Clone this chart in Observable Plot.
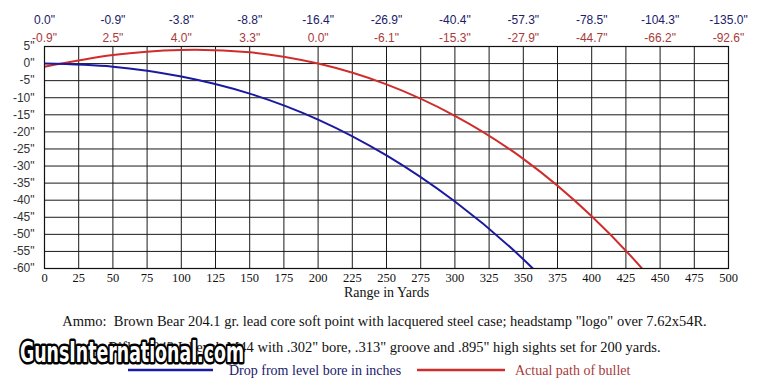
<!DOCTYPE html>
<html>
<head>
<meta charset="utf-8">
<script src="https://cdn.jsdelivr.net/npm/d3@7"></script>
<script src="https://cdn.jsdelivr.net/npm/@observablehq/plot@0.6"></script>
<style>
  html, body { margin: 0; padding: 0; background: #fff; }
  #wrap { position: relative; width: 769px; height: 384px; overflow: hidden; background: #fff; }
  #chart { position: absolute; left: 0; top: 0; }
  .cap { position: absolute; left: 0; width: 769px; text-align: center; font-family: "Liberation Serif", "Times New Roman", serif; font-size: 14.5px; color: #111; white-space: nowrap; }
  #legend { position: absolute; left: 0; top: 361px; width: 769px; height: 20px; }
  #wm { position: absolute; left: 0; top: 330px; }
  .serif text, text.serif { font-family: "Liberation Serif", "Times New Roman", serif; }
</style>
</head>
<body>
<div id="wrap">
  <div id="chart"></div>
  <div class="cap" id="cap1" style="top:313px">Ammo:&nbsp; Brown Bear 204.1 gr. lead core soft point with lacquered steel case; headstamp "logo" over 7.62x54R.</div>
  <div class="cap" id="cap2" style="top:339px">Rifle: 1943 Izhevsk M44 with .302" bore, .313" groove and .895" high sights set for 200 yards.</div>
  <div id="legend"></div>
  <svg id="wm" width="260" height="40"></svg>
</div>
<script>
// Range points (yards) at which the table values are given
const yards = [0, 50, 100, 150, 200, 250, 300, 350, 400, 450, 500];
// Drop from level bore, inches
const dropIn = [0.0, -0.9, -3.8, -8.8, -16.4, -26.9, -40.4, -57.3, -78.5, -104.3, -135.0];
// Actual path of bullet (sights set for 200 yards), inches
const pathIn = [-0.9, 2.5, 4.0, 3.3, 0.0, -6.1, -15.3, -27.9, -44.7, -66.2, -92.6];
// Axis ticks
const xTicks = [0, 25, 50, 75, 100, 125, 150, 175, 200, 225, 250, 275, 300, 325, 350, 375, 400, 425, 450, 475, 500];
const yTicks = [5, 0, -5, -10, -15, -20, -25, -30, -35, -40, -45, -50, -55, -60];
const seriesNames = ["Drop from level bore in inches", "Actual path of bullet"];

const blue = "#1a1aa0";
const red = "#d02c2c";
const blueText = "#20206a";
const redText = "#a83a3a";
const serif = "Liberation Serif, Times New Roman, serif";

const dropData = yards.map((x, i) => ({x, y: dropIn[i]}));
const pathData = yards.map((x, i) => ({x, y: pathIn[i]}));
const fmt = v => v.toFixed(1) + '"';

const chart = Plot.plot({
  width: 769,
  height: 310,
  marginTop: 46,
  marginLeft: 44,
  marginRight: 41,
  marginBottom: 42,
  style: { fontFamily: "Liberation Sans, Arial, sans-serif", fontSize: "12px", background: "transparent", color: "#222" },
  x: { domain: [0, 500] },
  y: { domain: [-60, 5] },
  marks: [
    Plot.ruleX(xTicks, { x: d => d, stroke: "#1a1a1a", strokeWidth: 1 }),
    Plot.ruleY(yTicks, { y: d => d, stroke: "#1a1a1a", strokeWidth: 1 }),
    Plot.line(pathData, { x: "x", y: "y", stroke: red, strokeWidth: 2, curve: "natural", clip: true }),
    Plot.line(dropData, { x: "x", y: "y", stroke: blue, strokeWidth: 2, curve: "natural", clip: true }),
    Plot.frame({ stroke: "#111", strokeWidth: 1.2 }),
    Plot.axisY({ ticks: yTicks, tickFormat: d => d + '"', tickSize: 0, tickPadding: 10, label: null, fontSize: 12, fill: "#333" }),
    Plot.axisX({ ticks: xTicks, tickFormat: d => String(d), tickSize: 0, tickPadding: 5, label: null, fontFamily: serif, fontSize: 12.5, fill: "#111", className: "serif" }),
    Plot.text(["Range in Yards"], { frameAnchor: "bottom", dy: 28, fontFamily: serif, fontSize: 14, fill: "#111", className: "serif" }),
    Plot.text(yards, { x: d => d, text: (d, i) => fmt(dropIn[i]), frameAnchor: "top", dy: -31, fill: blueText, fontSize: 12 }),
    Plot.text(yards, { x: d => d, text: (d, i) => fmt(pathIn[i]), frameAnchor: "top", dy: -13, fill: redText, fontSize: 12 })
  ]
});
document.getElementById("chart").appendChild(chart);
// make sure the x-axis labels use the serif face
d3.select(chart).selectAll('g[aria-label="x-axis tick label"]').attr("font-family", serif).style("font-family", serif);

// Legend
const legend = d3.select("#legend").append("svg").attr("width", 769).attr("height", 20);
const items = [
  { name: seriesNames[0], color: blue, text: blueText, x0: 128, x1: 213, tx: 229 },
  { name: seriesNames[1], color: red, text: redText, x0: 417, x1: 505, tx: 515 }
];
items.forEach(it => {
  legend.append("line").attr("x1", it.x0).attr("x2", it.x1).attr("y1", 9).attr("y2", 9)
    .attr("stroke", it.color).attr("stroke-width", 2.5);
  legend.append("text").attr("x", it.tx).attr("y", 14).text(it.name)
    .attr("fill", it.text).style("font-family", serif).attr("font-size", 14);
});

// Watermark
const wm = d3.select("#wm");
wm.append("text").attr("x", 20).attr("y", 32).text("GunsInternational.com")
  .attr("textLength", 224).attr("lengthAdjust", "spacingAndGlyphs")
  .style("font-family", "DejaVu Sans Condensed, Liberation Sans Narrow, sans-serif")
  .attr("font-weight", "bold").attr("font-size", 28)
  .attr("fill", "#fff").attr("stroke", "#000").attr("stroke-width", 5)
  .attr("stroke-linejoin", "round").attr("paint-order", "stroke");
</script>
</body>
</html>
